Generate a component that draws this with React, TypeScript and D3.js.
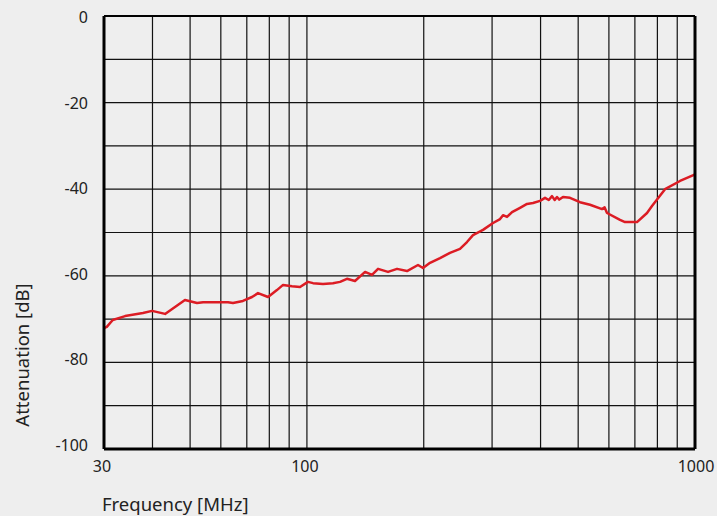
import React, { useEffect, useRef } from "react";
import * as d3 from "d3";

// frequency [MHz] and attenuation [dB]
const freqs = [
  30, 30.5, 31.6, 34, 37.8, 39.9, 43.1, 48.5, 52.1, 54, 62.6, 64.5, 68.4, 72.2,
  74.8, 79.4, 83.7, 86.8, 91.5, 96, 100.6, 103.7, 110, 116.7, 121.7, 126.8, 133,
  141.2, 147.1, 152.5, 161.8, 170.7, 181.1, 193.3, 199.1, 207.6, 220.3, 233.7,
  248, 258.5, 267.9, 284.3, 301.7, 314.5, 320.1, 327.8, 337.7, 354.1, 369.1,
  382.5, 398.7, 410.7, 420, 428.1, 435, 441, 447, 457, 476.3, 505.4, 536.4, 576,
  585, 593.4, 640.9, 660.2, 708.9, 752.2, 774.8, 837, 915, 994, 1000,
];
const atten = [
  -72.1, -71.8, -70.2, -69.3, -68.6, -68.1, -68.8, -65.6, -66.3, -66.1, -66.1,
  -66.3, -65.8, -64.9, -64.0, -64.9, -63.3, -62.1, -62.4, -62.6, -61.4, -61.7,
  -61.9, -61.7, -61.4, -60.7, -61.2, -59.1, -59.8, -58.4, -59.1, -58.4, -58.9,
  -57.5, -58.2, -57.0, -55.9, -54.7, -53.8, -52.2, -50.6, -49.4, -47.8, -46.9,
  -46.0, -46.4, -45.3, -44.3, -43.4, -43.2, -42.7, -42.0, -42.5, -41.6, -42.5,
  -41.8, -42.4, -41.8, -42.0, -43.0, -43.6, -44.6, -44.2, -45.5, -47.1, -47.6,
  -47.6, -45.5, -43.9, -40.0, -38.1, -36.7, -36.5,
];
const yTicks = [0, -20, -40, -60, -80, -100];
const yGrid = d3.range(0, -101, -10);
const xGrid = [40, 50, 60, 70, 80, 90, 100, 200, 300, 400, 500, 600, 700, 800, 900];
const xTicks = [30, 100, 1000];

const W = 717;
const H = 516;

const App: React.FC = () => {
  const ref = useRef<SVGSVGElement>(null);

  useEffect(() => {
    const svg = d3.select(ref.current);
    svg.selectAll("*").remove();
    const margin = { top: 16, right: 22, bottom: 67, left: 104 };
    const width = W - margin.left - margin.right;
    const height = H - margin.top - margin.bottom;
    const font = "'Noto Sans', 'Open Sans', sans-serif";

    svg.append("rect").attr("width", W).attr("height", H).attr("fill", "#eeeeee");

    const g = svg.append("g").attr("transform", `translate(${margin.left},${margin.top})`);

    const x = d3.scaleLog().domain([30, 1000]).range([0, width]);
    const y = d3.scaleLinear().domain([-100, 0]).range([height, 0]);
    // labels sit slightly inside the grid extent
    const yLab = d3.scaleLinear().domain([-100, 0]).range([height - 4, 1.5]);

    // grid
    g.selectAll(".vg")
      .data(xGrid)
      .enter()
      .append("line")
      .attr("x1", (d) => x(d))
      .attr("x2", (d) => x(d))
      .attr("y1", 0)
      .attr("y2", height)
      .attr("stroke", "#111")
      .attr("stroke-width", 1.2);
    g.selectAll(".hg")
      .data(yGrid)
      .enter()
      .append("line")
      .attr("x1", 0)
      .attr("x2", width)
      .attr("y1", (d) => y(d))
      .attr("y2", (d) => y(d))
      .attr("stroke", "#111")
      .attr("stroke-width", 1.2);

    // curve
    const pts = freqs.map((f, i) => [f, atten[i]] as [number, number]);
    const line = d3
      .line<[number, number]>()
      .x((d) => x(d[0]))
      .y((d) => y(d[1]));
    g.append("path")
      .datum(pts)
      .attr("d", line)
      .attr("fill", "none")
      .attr("stroke", "#dc1c24")
      .attr("stroke-width", 2.5)
      .attr("stroke-linejoin", "round");

    // frame
    g.append("line").attr("x1", 0).attr("x2", width).attr("y1", 0).attr("y2", 0)
      .attr("stroke", "#000").attr("stroke-width", 2);
    g.append("line").attr("x1", width).attr("x2", width).attr("y1", 0).attr("y2", height)
      .attr("stroke", "#000").attr("stroke-width", 3);
    g.append("line").attr("x1", 0).attr("x2", 0).attr("y1", 0).attr("y2", height)
      .attr("stroke", "#000").attr("stroke-width", 3);
    g.append("line").attr("x1", 0).attr("x2", width).attr("y1", height).attr("y2", height)
      .attr("stroke", "#000").attr("stroke-width", 3);

    // tick labels
    g.selectAll(".yt")
      .data(yTicks)
      .enter()
      .append("text")
      .attr("x", -16)
      .attr("y", (d) => yLab(d) + 5.7)
      .attr("text-anchor", "end")
      .attr("font-family", font)
      .attr("font-size", 16)
      .attr("fill", "#222")
      .text((d) => d);
    g.selectAll(".xt")
      .data(xTicks)
      .enter()
      .append("text")
      .attr("x", (d) => x(d) - (d === 30 ? 2 : d === 1000 ? -1 : 2))
      .attr("y", height + (d3.max([0]) as number) + 23)
      .attr("text-anchor", "middle")
      .attr("font-family", font)
      .attr("font-size", 16)
      .attr("fill", "#222")
      .text((d) => d);

    // axis titles
    svg.append("text")
      .attr("x", 102)
      .attr("y", 511)
      .attr("font-family", font)
      .attr("font-size", 18.5)
      .attr("fill", "#222")
      .text("Frequency [MHz]");
    svg.append("text")
      .attr("transform", `translate(29,355)rotate(-90)`)
      .attr("text-anchor", "middle")
      .attr("font-family", font)
      .attr("font-size", 18.5)
      .attr("fill", "#222")
      .text("Attenuation [dB]");
  }, []);

  return <svg ref={ref} width={W} height={H} style={{ display: "block", position: "absolute", left: 0, top: 0 }} />;
};

export default App;
